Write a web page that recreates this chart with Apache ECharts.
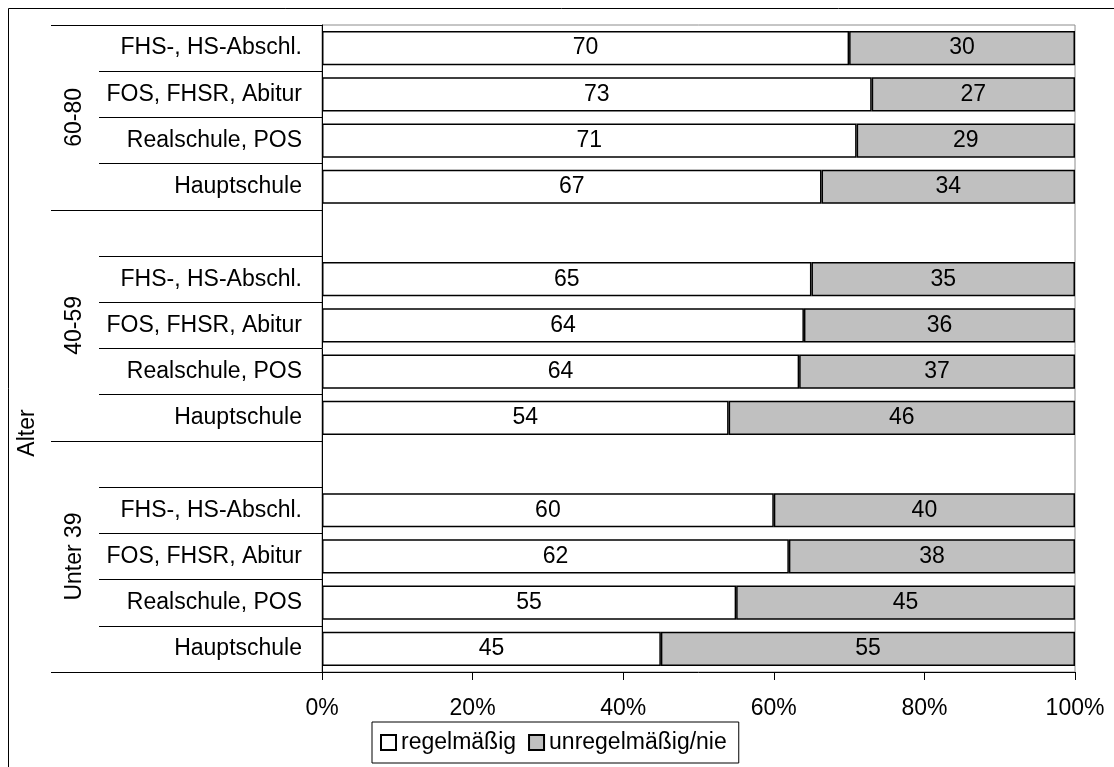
<!DOCTYPE html>
<html>
<head>
<meta charset="utf-8">
<script src="https://cdn.jsdelivr.net/npm/echarts@6/dist/echarts.min.js"></script>
<style>
  html, body { margin: 0; padding: 0; background: #fff; }
  #chart { width: 1114px; height: 767px; }
</style>
</head>
<body>
<div id="chart"></div>
<script>
// Rows from top to bottom; empty strings are spacer rows between age groups
const rowLabels = [
  'FHS-, HS-Abschl.', 'FOS, FHSR, Abitur', 'Realschule, POS', 'Hauptschule',
  '',
  'FHS-, HS-Abschl.', 'FOS, FHSR, Abitur', 'Realschule, POS', 'Hauptschule',
  '',
  'FHS-, HS-Abschl.', 'FOS, FHSR, Abitur', 'Realschule, POS', 'Hauptschule'
];
const regelmaessig   = [70, 73, 71, 67, null, 65, 64, 64, 54, null, 60, 62, 55, 45];
const unregelmaessig = [30, 27, 29, 34, null, 35, 36, 37, 46, null, 40, 38, 45, 55];

// Age groups and the row boundaries that enclose them
const ageGroups = ['60-80', '40-59', 'Unter 39'];
const groupBounds = [0, 4, 9, 14];
const seriesNames = ['regelmäßig', 'unregelmäßig/nie'];
const axisTitle = 'Alter';

const FONT = '"Liberation Sans", Arial, sans-serif';
const FS = 23;

// each row is scaled to 100 %, the labels keep the surveyed values
function share(a, b, i) {
  if (a[i] == null) return null;
  return a[i] / (a[i] + b[i]) * 100;
}
const regShare = regelmaessig.map((v, i) => share(regelmaessig, unregelmaessig, i));
const unrShare = unregelmaessig.map((v, i) => share(unregelmaessig, regelmaessig, i));

const groupCenters = ageGroups.map((g, i) => (groupBounds[i] + groupBounds[i + 1]) / 2);

const chart = echarts.init(document.getElementById('chart'), null, { renderer: 'canvas' });

const barLabel = (raw) => ({
  show: true,
  position: 'inside',
  color: '#000',
  fontFamily: FONT,
  fontSize: FS,
  padding: [4, 0, 0, 0],
  formatter: p => raw[p.dataIndex]
});

chart.setOption({
  animation: false,
  backgroundColor: '#fff',
  textStyle: { fontFamily: FONT, color: '#000' },
  grid: {
    left: 322, right: 39, top: 25, bottom: 95,
    show: true, borderColor: '#8c8c8c', borderWidth: 1, backgroundColor: 'transparent'
  },
  legend: {
    left: 372, top: 722,
    orient: 'horizontal',
    icon: 'rect',
    itemWidth: 15, itemHeight: 15, itemGap: 12,
    padding: [9, 12, 9, 8],
    borderColor: '#000', borderWidth: 1,
    textStyle: { fontFamily: FONT, fontSize: FS, color: '#000' },
    data: seriesNames
  },
  xAxis: {
    type: 'value', min: 0, max: 100, interval: 20,
    axisLine: { show: true, onZero: false, lineStyle: { color: '#000', width: 1 } },
    axisTick: { show: true, length: 8, lineStyle: { color: '#000' } },
    splitLine: { show: false },
    axisLabel: { formatter: '{value}%', fontFamily: FONT, fontSize: FS, color: '#000', margin: 25 }
  },
  yAxis: [
    {
      type: 'category', inverse: true, data: rowLabels, position: 'left',
      axisLine: { show: true, onZero: false, lineStyle: { color: '#000', width: 1 } },
      axisTick: { show: true, length: 223, lineStyle: { color: '#000' } },
      axisLabel: {
        interval: 0, fontFamily: FONT, fontSize: FS, color: '#000', margin: 20,
        padding: [5, 0, 0, 0]
      }
    },
    {
      type: 'value', min: 0, max: 14, inverse: true, position: 'left',
      axisLine: { show: false, onZero: false },
      splitLine: { show: false },
      axisTick: { show: true, customValues: groupBounds, length: 271, lineStyle: { color: '#000' } },
      axisLabel: {
        customValues: groupCenters,
        rotate: 90,
        margin: 236,
        fontFamily: FONT, fontSize: FS, color: '#000',
        formatter: v => {
          const i = groupCenters.findIndex(c => Math.abs(c - v) < 1e-6);
          return i >= 0 ? ageGroups[i] : '';
        }
      }
    }
  ],
  series: [
    {
      name: seriesNames[0], type: 'bar', stack: 'total', yAxisIndex: 0,
      barCategoryGap: '26%',
      itemStyle: { color: '#ffffff', borderColor: '#000', borderWidth: 1.5 },
      label: barLabel(regelmaessig),
      data: regShare
    },
    {
      name: seriesNames[1], type: 'bar', stack: 'total', yAxisIndex: 0,
      barCategoryGap: '26%',
      itemStyle: { color: '#c0c0c0', borderColor: '#000', borderWidth: 1.5 },
      label: barLabel(unregelmaessig),
      data: unrShare
    }
  ],
  graphic: [
    {
      type: 'rect', silent: true,
      shape: { x: 8.5, y: 8.5, width: 3000, height: 3000 },
      style: { fill: 'none', stroke: '#000', lineWidth: 1 }
    },
    {
      type: 'text', silent: true,
      x: 28, y: 433, rotation: Math.PI / 2,
      style: {
        text: axisTitle, fontFamily: FONT, fontSize: FS, fill: '#000',
        align: 'center', verticalAlign: 'middle'
      }
    }
  ]
});
</script>
</body>
</html>
